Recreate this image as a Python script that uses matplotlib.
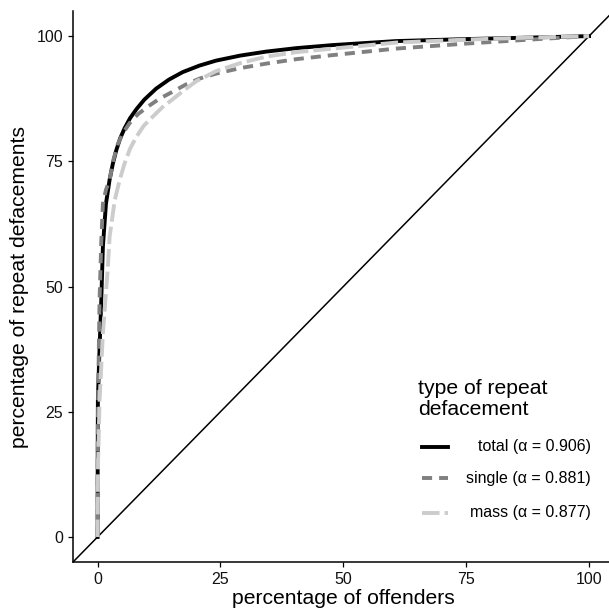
import matplotlib
matplotlib.use("Agg")
import matplotlib.pyplot as plt
from matplotlib.lines import Line2D

plt.rcParams["font.family"] = ["Liberation Sans", "DejaVu Sans"]

# cumulative share of repeat defacements vs share of offenders
total_x = [0, 0.02, 0.06, 0.27, 0.75, 1.08, 1.7, 2.44, 3.1, 3.8, 4.6, 5.5, 6.6, 7.9, 9.5, 11.9, 14.5, 17.3, 20.7, 24.1, 29, 34.3, 40.5, 47.8, 60.7, 75, 88, 100]
total_y = [0, 15, 27.3, 34, 47.3, 58, 66.5, 71.3, 74.5, 77.2, 79.6, 81.6, 83.6, 85.4, 87.3, 89.5, 91.3, 92.8, 94.1, 95.1, 96.1, 96.9, 97.6, 98.2, 99.0, 99.4, 99.7, 100]

single_x = [0, 0.05, 0.2, 0.4, 0.75, 1.08, 1.7, 2.44, 3.2, 4.1, 5.2, 6.5, 8.2, 10.2, 12.6, 15.3, 17.9, 20.7, 24.1, 29, 34.3, 40.5, 47.8, 60.7, 75, 88, 100]
single_y = [0, 22, 34, 47.3, 59, 66.5, 69.3, 71.3, 75.2, 78.4, 80.7, 82.6, 84.4, 85.9, 87.5, 88.9, 90.3, 91.5, 92.5, 93.6, 94.5, 95.4, 96.2, 97.5, 98.5, 99.3, 100]

mass_x = [0, 0.1, 0.4, 1.08, 2.1, 2.44, 3.5, 4.5, 5.5, 6.6, 7.9, 9.4, 11.2, 13.2, 15.3, 17.6, 20.1, 24.1, 29, 34.3, 40.5, 47.8, 60.7, 75, 88, 100]
mass_y = [0, 15, 27.3, 40.7, 54, 59.9, 67.3, 71.3, 74.6, 77.5, 79.9, 82.1, 83.9, 85.8, 87.4, 89.2, 91.0, 93.0, 94.6, 95.9, 96.8, 97.5, 98.7, 99.3, 99.7, 100]

series = [
    ("total", 0.906, total_x, total_y, "#000000", "-"),
    ("single", 0.881, single_x, single_y, "#808080", (0, (2.6, 1.8))),
    ("mass", 0.877, mass_x, mass_y, "#cccccc", (0, (4.5, 1.3))),
]
ticks = [0, 25, 50, 75, 100]

fig = plt.figure(figsize=(6.09, 6.13), dpi=100)
ax = fig.add_axes([0.1199, 0.0832, 0.8877, 0.8988])

ax.plot([-5, 105], [-5, 105], color="black", lw=1.1, zorder=1)
for name, a, xs, ys, col, ls in series:
    ax.plot(xs, ys, color=col, lw=2.8, linestyle=ls, zorder=2, solid_joinstyle="round")

ax.set_xlim(-5, 105)
ax.set_ylim(-5, 105)
ax.set_xticks(ticks)
ax.set_yticks(ticks)
ax.tick_params(labelsize=11.5, length=3.8, width=0.9, color="black", labelcolor="#111111", pad=3.5)
for side in ("top", "right"):
    ax.spines[side].set_visible(False)
for side in ("left", "bottom"):
    ax.spines[side].set_linewidth(1.1)
ax.set_xlabel("percentage of offenders", fontsize=15.2, labelpad=1.5)
ax.set_ylabel("percentage of repeat defacements", fontsize=15.2, labelpad=5)

# legend drawn by hand so labels can be right-aligned like the original
fig.text(418 / 609, 1 - 399 / 613, "type of repeat\ndefacement", fontsize=15.2,
         ha="left", va="center", linespacing=1.1)
rows_y = [447, 478, 513]
for (name, a, xs, ys, col, ls), py in zip(series, rows_y):
    yf = 1 - py / 613
    fig.add_artist(Line2D([422 / 609, 448 / 609], [yf, yf], color=col, lw=2.8,
                          linestyle=ls, transform=fig.transFigure))
    fig.text(591 / 609, yf, f"{name} (α = {a:.3f})", fontsize=11.5,
             ha="right", va="center")

fig.savefig("out.png", dpi=100)
